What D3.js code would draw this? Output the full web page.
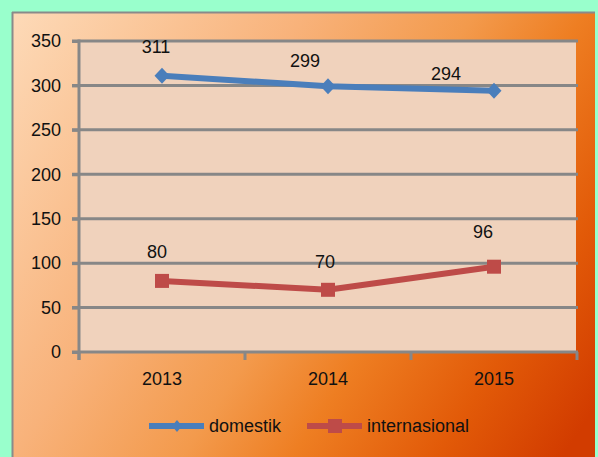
<!DOCTYPE html>
<html><head><meta charset="utf-8">
<script src="https://cdn.jsdelivr.net/npm/d3@7/dist/d3.min.js"></script>
<style>
html,body{margin:0;padding:0;background:#99FFCC;}
svg{display:block;}
text{font-family:"Liberation Sans",Arial,sans-serif;fill:#111;}
</style></head>
<body><svg id="c" width="598" height="457"></svg>
<script>
const years = ["2013","2014","2015"];
const domestik = [311, 299, 294];
const internasional = [80, 70, 96];
const yTicks = [0,50,100,150,200,250,300,350];
const seriesNames = ["domestik","internasional"];
// label nudges (dx, dy) relative to point, as in the reference
const domLabelNudge = [[-6,-23],[-23,-19],[-48,-11]];
const intLabelNudge = [[-5,-23],[-3,-22],[-11,-29]];

const svg = d3.select("#c");
const defs = svg.append("defs");
const g1 = defs.append("linearGradient").attr("id","bg").attr("gradientUnits","userSpaceOnUse")
  .attr("x1",12).attr("y1",12).attr("x2",600).attr("y2",400);
[[0,"#FDDAB8"],[0.35,"#F8B27A"],[0.55,"#F39A4C"],[0.68,"#EE7E22"],[0.85,"#E25A08"],[1,"#D23C00"]]
  .forEach(([o,c])=>g1.append("stop").attr("offset",o).attr("stop-color",c));

// frame
svg.append("rect").attr("x",12).attr("y",12).attr("width",583).attr("height",460)
  .attr("fill","url(#bg)");
svg.append("line").attr("x1",12).attr("x2",595).attr("y1",12.5).attr("y2",12.5)
  .attr("stroke","#8a8a8a").attr("stroke-width",2);
svg.append("line").attr("x1",12.5).attr("x2",12.5).attr("y1",12).attr("y2",457)
  .attr("stroke","#8a8a8a").attr("stroke-width",2);

const x = d3.scaleBand().domain(years).range([79,577]).padding(0);
const y = d3.scaleLinear().domain([0,350]).range([352,41]);
const grey = "#878787";

// plot area
svg.append("rect").attr("x",79).attr("y",y(350)).attr("width",497).attr("height",y(0)-y(350))
  .attr("fill","#F0D2BC");

// gridlines
svg.append("g").selectAll("line").data(yTicks).join("line")
  .attr("x1",72).attr("x2",578).attr("y1",d=>y(d)).attr("y2",d=>y(d))
  .attr("stroke",grey).attr("stroke-width",3);

// y axis
const ya = svg.append("g").attr("transform","translate(79,0)")
  .call(d3.axisLeft(y).tickValues(yTicks).tickSize(7).tickSizeOuter(0).tickPadding(11));
ya.select(".domain").remove();
ya.selectAll(".tick line").attr("stroke",grey).attr("stroke-width",3);
ya.selectAll(".tick text").style("font-size","18px").style("font-family","Liberation Sans, Arial, sans-serif").attr("fill","#111");
svg.append("line").attr("x1",79).attr("x2",79).attr("y1",y(350)-1.5).attr("y2",360)
  .attr("stroke",grey).attr("stroke-width",3);

// x axis
const xa = svg.append("g").attr("transform",`translate(0,${y(0)})`)
  .call(d3.axisBottom(x).tickSize(0).tickPadding(20));
xa.select(".domain").remove();
xa.selectAll(".tick text").style("font-size","18px").style("font-family","Liberation Sans, Arial, sans-serif").attr("fill","#111");
const bounds = [x.range()[0]].concat(years.map(d=>x(d)+x.bandwidth()));
svg.append("g").selectAll("line").data(bounds).join("line")
  .attr("x1",d=>d).attr("x2",d=>d).attr("y1",y(0)).attr("y2",y(0)+8)
  .attr("stroke",grey).attr("stroke-width",3);

const cx = d => x(d)+x.bandwidth()/2;
const line = d3.line().x(d=>cx(d.k)).y(d=>y(d.v));
const blue = "#4A7EBB", red = "#BE4B48";
const dom = years.map((k,i)=>({k,v:domestik[i]}));
const intl = years.map((k,i)=>({k,v:internasional[i]}));

svg.append("path").datum(dom).attr("d",line).attr("fill","none")
  .attr("stroke",blue).attr("stroke-width",6).attr("stroke-linejoin","round");
svg.append("path").datum(intl).attr("d",line).attr("fill","none")
  .attr("stroke",red).attr("stroke-width",6).attr("stroke-linejoin","round");

const diamondPath = (w,h) => `M0,${-h}L${w},0L0,${h}L${-w},0Z`;
svg.append("g").selectAll("path").data(dom).join("path")
  .attr("d",diamondPath(7.5,8)).attr("transform",d=>`translate(${cx(d.k)},${y(d.v)})`)
  .attr("fill",blue);
svg.append("g").selectAll("rect").data(intl).join("rect")
  .attr("x",d=>cx(d.k)-7).attr("y",d=>y(d.v)-7).attr("width",14).attr("height",14)
  .attr("fill",red);

// data labels
svg.append("g").selectAll("text").data(dom).join("text")
  .attr("x",(d,i)=>cx(d.k)+domLabelNudge[i][0]).attr("y",(d,i)=>y(d.v)+domLabelNudge[i][1])
  .attr("text-anchor","middle").style("font-size","18px").text(d=>d.v);
svg.append("g").selectAll("text").data(intl).join("text")
  .attr("x",(d,i)=>cx(d.k)+intLabelNudge[i][0]).attr("y",(d,i)=>y(d.v)+intLabelNudge[i][1])
  .attr("text-anchor","middle").style("font-size","18px").text(d=>d.v);

// legend
const lg = svg.append("g");
const lx = [149, 307];
const cols = [blue, red];
seriesNames.forEach((n,i)=>{
  lg.append("line").attr("x1",lx[i]).attr("x2",lx[i]+55).attr("y1",426).attr("y2",426)
    .attr("stroke",cols[i]).attr("stroke-width",6);
  if(i===0){
    lg.append("path").attr("d",diamondPath(5,6)).attr("transform",`translate(${lx[i]+28},426)`).attr("fill",blue);
  } else {
    lg.append("rect").attr("x",lx[i]+21).attr("y",419).attr("width",14).attr("height",14).attr("fill",red);
  }
  lg.append("text").attr("x",lx[i]+60).attr("y",432).style("font-size","18px").text(n);
});
</script></body></html>
